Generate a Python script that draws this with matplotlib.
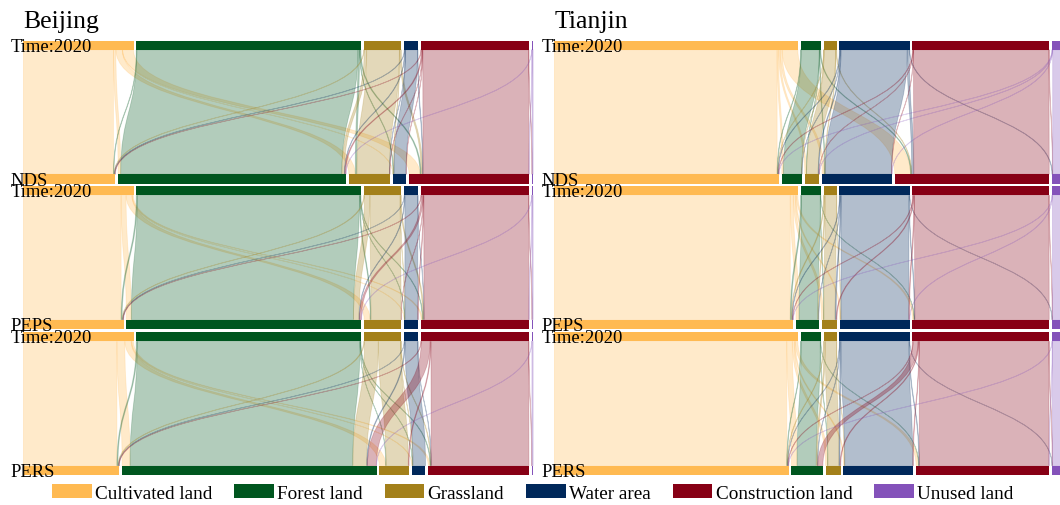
import numpy as np
import matplotlib
matplotlib.use("Agg")
import matplotlib.pyplot as plt
from matplotlib.patches import Rectangle, PathPatch, Patch
from matplotlib.path import Path

plt.rcParams['font.family'] = ['Liberation Serif', 'DejaVu Serif']

# ---------------------------------------------------------------- data
CLASSES = ["Cultivated land", "Forest land", "Grassland",
           "Water area", "Construction land", "Unused land"]
COLORS = ["#FFBA52", "#00561F", "#A3801A", "#00285A", "#870015", "#8452BA"]
BASE_LABEL = "Time:2020"
SCENARIOS = ["NDS", "PEPS", "PERS"]

# Land-use transfer matrices, share of regional area (%).
# rows: class in 2020, columns: class under the scenario (same order as CLASSES)
beijing_nds = [
    [18.15, 0.50, 1.30, 0.05, 2.20, 0.00],
    [0.10, 44.60, 0.30, 0.10, 0.20, 0.00],
    [0.10, 0.50, 6.60, 0.10, 0.30, 0.00],
    [0.10, 0.10, 0.05, 2.45, 0.10, 0.00],
    [0.10, 0.20, 0.05, 0.05, 21.35, 0.05],
    [0.00, 0.05, 0.00, 0.00, 0.05, 0.20],
]
beijing_peps = [
    [19.70, 1.00, 1.20, 0.05, 0.25, 0.00],
    [0.20, 44.80, 0.15, 0.05, 0.10, 0.00],
    [0.15, 1.10, 6.10, 0.05, 0.20, 0.00],
    [0.05, 0.10, 0.00, 2.60, 0.05, 0.00],
    [0.10, 0.35, 0.05, 0.10, 21.15, 0.05],
    [0.00, 0.05, 0.00, 0.00, 0.05, 0.20],
]
beijing_pers = [
    [18.85, 1.60, 1.30, 0.10, 0.35, 0.00],
    [0.20, 44.90, 0.05, 0.05, 0.10, 0.00],
    [0.15, 2.80, 4.50, 0.05, 0.10, 0.00],
    [0.05, 0.15, 0.00, 2.55, 0.05, 0.00],
    [0.10, 1.80, 0.15, 0.00, 19.70, 0.05],
    [0.00, 0.05, 0.00, 0.00, 0.00, 0.25],
]
tianjin_nds = [
    [44.00, 0.30, 0.30, 0.40, 3.10, 0.00],
    [0.10, 3.60, 0.05, 0.10, 0.15, 0.00],
    [0.05, 0.05, 2.30, 0.10, 0.10, 0.00],
    [0.10, 0.05, 0.15, 13.10, 0.40, 0.10],
    [0.10, 0.00, 0.05, 0.05, 26.75, 0.05],
    [0.05, 0.00, 0.05, 0.05, 0.00, 4.25],
]
tianjin_peps = [
    [46.60, 0.60, 0.40, 0.20, 0.30, 0.00],
    [0.20, 3.70, 0.05, 0.00, 0.05, 0.00],
    [0.15, 0.15, 2.25, 0.05, 0.00, 0.00],
    [0.10, 0.05, 0.20, 13.40, 0.10, 0.05],
    [0.10, 0.00, 0.15, 0.15, 26.55, 0.05],
    [0.05, 0.00, 0.00, 0.05, 0.00, 4.30],
]
tianjin_pers = [
    [45.90, 1.10, 0.40, 0.20, 0.50, 0.00],
    [0.10, 3.80, 0.05, 0.00, 0.05, 0.00],
    [0.10, 0.25, 2.20, 0.05, 0.00, 0.00],
    [0.05, 0.05, 0.20, 13.45, 0.10, 0.05],
    [0.10, 1.00, 0.15, 0.10, 25.60, 0.05],
    [0.05, 0.00, 0.00, 0.00, 0.05, 4.30],
]

# ---------------------------------------------------------------- layout
W, H = 1060, 506
ROW_TOP = [41.5, 187.0, 333.0]   # y (px from top) of the 2020 bar in each row
BAR_H = 9.3
ROW_SPAN = 133.7                 # distance from 2020 bar to scenario bar
FLOW_ALPHA = 0.30
EDGE_ALPHA = 0.22

fig = plt.figure(figsize=(W / 100, H / 100), dpi=100)


def spans(totals, gap):
    totals = np.asarray(totals, dtype=float)
    starts = np.concatenate([[0.0], np.cumsum(totals[:-1] + gap)])
    return starts, starts + totals


def ribbon(ax, xt0, xt1, xb0, xb1, yt, yb, color):
    ym = (yt + yb) / 2
    verts = [(xt0, yt), (xt0, ym), (xb0, ym), (xb0, yb),
             (xb1, yb), (xb1, ym), (xt1, ym), (xt1, yt), (xt0, yt)]
    codes = [Path.MOVETO, Path.CURVE4, Path.CURVE4, Path.CURVE4,
             Path.LINETO, Path.CURVE4, Path.CURVE4, Path.CURVE4, Path.CLOSEPOLY]
    ax.add_patch(PathPatch(Path(verts, codes),
                           facecolor=matplotlib.colors.to_rgba(color, FLOW_ALPHA),
                           edgecolor=matplotlib.colors.to_rgba(color, EDGE_ALPHA),
                           lw=0.6, zorder=1))


def alluvial(ax, matrix, y_top, gap, label_x, bottom_label):
    m = np.asarray(matrix, dtype=float)
    src, tgt = m.sum(axis=1), m.sum(axis=0)
    s0, s1 = spans(src, gap)
    t0, t1 = spans(tgt, gap)
    y_bot = y_top + ROW_SPAN
    yt, yb = y_top + BAR_H, y_bot
    # flows: outflows ordered by target at the top, inflows by source below
    top_off = s0.copy()
    bot_off = t0.copy()
    for i in range(len(src)):
        for j in range(len(tgt)):
            v = m[i, j]
            if v <= 0:
                continue
            ribbon(ax, top_off[i], top_off[i] + v, bot_off[j], bot_off[j] + v,
                   yt, yb, COLORS[i])
            top_off[i] += v
            bot_off[j] += v
    for k in range(len(src)):
        ax.add_patch(Rectangle((s0[k], y_top), src[k], BAR_H,
                               facecolor=COLORS[k], edgecolor='none', zorder=3))
        ax.add_patch(Rectangle((t0[k], y_bot), tgt[k], BAR_H,
                               facecolor=COLORS[k], edgecolor='none', zorder=3))
    ax.text(label_x, y_top + BAR_H + 1, BASE_LABEL, fontsize=13.4,
            va='baseline', ha='left', zorder=5, clip_on=False)
    ax.text(label_x, y_bot + BAR_H + 1, bottom_label, fontsize=13.4,
            va='baseline', ha='left', zorder=5, clip_on=False)


def panel(name, matrices, left_px, right_px, px_per_unit, gap_px):
    ax = fig.add_axes([left_px / W, 0, (right_px - left_px) / W, 1])
    ax.set_xlim(0, (right_px - left_px) / px_per_unit)
    ax.set_ylim(H, 0)
    ax.axis('off')
    gap = gap_px / px_per_unit
    label_x = -12.5 / px_per_unit
    for y_top, mat, scen in zip(ROW_TOP, matrices, SCENARIOS):
        alluvial(ax, mat, y_top, gap, label_x, scen)
    ax.text(0, 28, name, fontsize=18.5, va='baseline', ha='left', clip_on=False)
    return ax


panel("Beijing", [beijing_nds, beijing_peps, beijing_pers],
      23.4, 536.0, 4.96, 2.75)
panel("Tianjin", [tianjin_nds, tianjin_peps, tianjin_pers],
      554.3, W, 5.064, 2.7)

handles = [Patch(facecolor=c, edgecolor='none', label=n)
           for n, c in zip(CLASSES, COLORS)]
fig.legend(handles=handles, loc='center', bbox_to_anchor=(0.5 + 2.9 / W, 1 - 494 / H),
           ncol=6, frameon=False, fontsize=13.8, handlelength=2.06,
           handleheight=0.73, handletextpad=0.17, columnspacing=1.15,
           borderpad=0, borderaxespad=0)

fig.savefig("out.png", dpi=100, facecolor='white')
